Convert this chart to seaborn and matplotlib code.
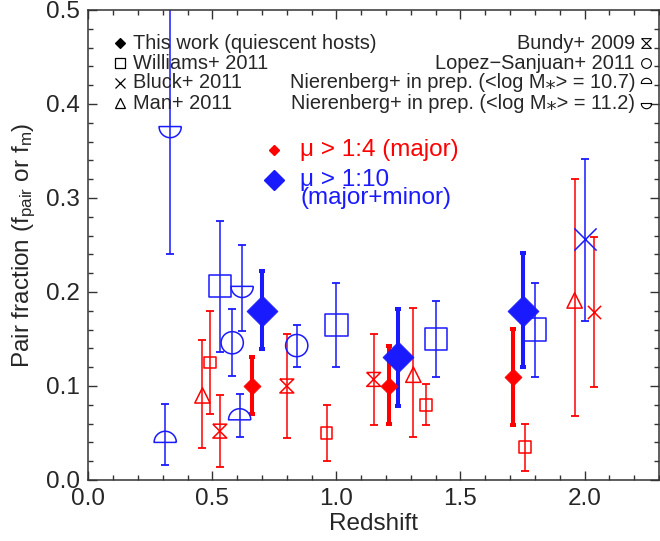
import numpy as np
import matplotlib
matplotlib.use("Agg")
import matplotlib.pyplot as plt
from matplotlib.path import Path
import seaborn as sns

# ---------------- data ----------------
# This work, mu > 1:4 (major)
tw_major_z = [0.66, 1.21, 1.71]
tw_major_f = [0.100, 0.100, 0.110]
tw_major_lo = [0.070, 0.060, 0.059]
tw_major_hi = [0.131, 0.143, 0.161]
# This work, mu > 1:10 (major+minor)
tw_minor_z = [0.70, 1.25, 1.75]
tw_minor_f = [0.180, 0.131, 0.180]
tw_minor_lo = [0.139, 0.079, 0.120]
tw_minor_hi = [0.222, 0.182, 0.242]
# Williams+ 2011
wil_minor_z = [0.53, 1.00, 1.40, 1.80]
wil_minor_f = [0.206, 0.165, 0.150, 0.160]
wil_minor_lo = [0.136, 0.120, 0.110, 0.110]
wil_minor_hi = [0.276, 0.210, 0.190, 0.210]
wil_major_z = [0.49, 0.96, 1.36, 1.76]
wil_major_f = [0.125, 0.050, 0.080, 0.035]
wil_major_lo = [0.070, 0.020, 0.059, 0.010]
wil_major_hi = [0.180, 0.080, 0.102, 0.060]
# Bundy+ 2009
bun_z = [0.53, 0.80, 1.15]
bun_f = [0.052, 0.100, 0.107]
bun_lo = [0.014, 0.045, 0.059]
bun_hi = [0.090, 0.155, 0.155]
# Lopez-Sanjuan+ 2011
lop_z = [0.58, 0.84]
lop_f = [0.146, 0.143]
lop_lo = [0.111, 0.120]
lop_hi = [0.182, 0.165]
# Man+ 2011
man_z = [0.46, 1.31, 1.96]
man_f = [0.090, 0.112, 0.191]
man_lo = [0.034, 0.046, 0.068]
man_hi = [0.149, 0.183, 0.320]
# Bluck+ 2011
blu_minor_z = [2.00]
blu_minor_f = [0.256]
blu_minor_lo = [0.169]
blu_minor_hi = [0.341]
blu_major_z = [2.04]
blu_major_f = [0.179]
blu_major_lo = [0.099]
blu_major_hi = [0.259]
# Nierenberg+ in prep.
nie107_z = [0.31, 0.61]
nie107_f = [0.040, 0.064]
nie107_lo = [0.016, 0.046]
nie107_hi = [0.081, 0.091]
nie112_z = [0.33, 0.62]
nie112_f = [0.376, 0.206]
nie112_lo = [0.240, 0.158]
nie112_hi = [0.600, 0.250]

legend_left = ["This work (quiescent hosts)", "Williams+ 2011", "Bluck+ 2011", "Man+ 2011"]
legend_right = ["Bundy+ 2009", "Lopez\u2212Sanjuan+ 2011",
                "Nierenberg+ in prep. (<log M\u204e> = 10.7)",
                "Nierenberg+ in prep. (<log M\u204e> = 11.2)"]
ratio_major_label = "\u03bc > 1:4 (major)"
ratio_minor_label = "\u03bc > 1:10\n(major+minor)"

# ---------------- style ----------------
sns.set_style("ticks")
plt.rcParams['font.family'] = ['Liberation Sans', 'DejaVu Sans']
plt.rcParams['mathtext.fontset'] = 'custom'
plt.rcParams['mathtext.rm'] = 'Liberation Sans'
plt.rcParams['mathtext.it'] = 'Liberation Sans:italic'
plt.rcParams['mathtext.default'] = 'regular'

RED = '#ff0000'
BLUE = '#1a1aff'

# custom markers
def half_circle(up=True):
    t = np.linspace(0, np.pi, 41)
    s = 1 if up else -1
    v = np.column_stack([np.cos(t), s * np.sin(t)])
    v = np.vstack([v, v[:1]])
    return Path(v)

DOME_UP = half_circle(True)
DOME_DN = half_circle(False)
BOWTIE = Path([(-1, 1), (1, 1), (-1, -1), (1, -1), (-1, 1)])

fig = plt.figure(figsize=(6.6, 5.41), dpi=100)
ax = fig.add_axes([88.3 / 660, 61 / 541, 570.7 / 660, 470 / 541])

def draw(z, f, lo, hi, color, marker, ms, filled=False, elw=1.1, cap=2.8, capthick=1.3, mlw=1.1):
    z = np.asarray(z); f = np.asarray(f)
    lo = np.asarray(lo); hi = np.asarray(hi)
    ax.errorbar(z, f, yerr=[f - lo, hi - f], fmt='none', ecolor=color,
                elinewidth=elw, capsize=cap, capthick=capthick, zorder=2)
    kw = dict(x=z, y=f, marker=marker, s=ms ** 2, ax=ax, zorder=3, legend=False)
    if marker == 'x':
        sns.scatterplot(color=color, linewidth=mlw, **kw)
    elif filled:
        sns.scatterplot(color=color, edgecolor=color, linewidth=0.5, **kw)
    else:
        sns.scatterplot(color=color, facecolor='none', edgecolor=color, linewidth=mlw, **kw)

# literature points
draw(wil_minor_z, wil_minor_f, wil_minor_lo, wil_minor_hi, BLUE, 's', 16)
draw(wil_major_z, wil_major_f, wil_major_lo, wil_major_hi, RED, 's', 8.6)
draw(bun_z, bun_f, bun_lo, bun_hi, RED, BOWTIE, 10)
draw(lop_z, lop_f, lop_lo, lop_hi, BLUE, 'o', 16)
draw(man_z, man_f, man_lo, man_hi, RED, '^', 11)
draw(blu_minor_z, blu_minor_f, blu_minor_lo, blu_minor_hi, BLUE, 'x', 16)
draw(blu_major_z, blu_major_f, blu_major_lo, blu_major_hi, RED, 'x', 9.5)
draw(nie107_z, nie107_f, nie107_lo, nie107_hi, BLUE, DOME_UP, 16)
draw(nie112_z, nie112_f, nie112_lo, nie112_hi, BLUE, DOME_DN, 16)
# this work
draw(tw_minor_z, tw_minor_f, tw_minor_lo, tw_minor_hi, BLUE, 'D', 15.8, filled=True,
     elw=2.9, cap=2.5, capthick=2.9)
draw(tw_major_z, tw_major_f, tw_major_lo, tw_major_hi, RED, 'D', 8.7, filled=True,
     elw=2.9, cap=2.5, capthick=2.9)

# axes
ax.set_xlim(0, 2.3)
ax.set_ylim(0, 0.5)
ax.set_xticks([0.0, 0.5, 1.0, 1.5, 2.0])
ax.set_xticks(np.arange(0, 2.31, 0.1), minor=True)
ax.set_yticks([0.0, 0.1, 0.2, 0.3, 0.4, 0.5])
ax.set_yticks(np.arange(0, 0.501, 0.02), minor=True)
ax.set_xticklabels(["0.0", "0.5", "1.0", "1.5", "2.0"])
ax.set_yticklabels(["0.0", "0.1", "0.2", "0.3", "0.4", "0.5"])
ax.tick_params(which='both', direction='in', top=True, right=True,
               color='0.2', width=1.0, labelsize=17.5, pad=6)
ax.tick_params(which='major', length=6.5)
ax.tick_params(which='minor', length=3.6)
for sp in ax.spines.values():
    sp.set_visible(True)
    sp.set_linewidth(1.1)
    sp.set_color('0.2')
ax.set_xlabel("Redshift", fontsize=17.5, labelpad=2)
ax.set_ylabel(r"Pair fraction (f$_{\rm pair}$ or f$_{\rm m}$)", fontsize=17.5, labelpad=6)

# legend block (text keys)
T = ax.transAxes
rows = [0.9292, 0.8872, 0.8447, 0.8014]
lmk = [('D', 5.0, True), ('s', 7.0, False), ('x', 7.0, False), ('^', 7.0, False)]
for y, lab, (m, ms, fil) in zip(rows, legend_left, lmk):
    ax.plot([0.0555], [y], marker=m, ms=ms, color='k', mfc='k' if fil else 'none',
            mew=0.9, ls='none', transform=T, clip_on=False)
    ax.text(0.078, y, lab, transform=T, fontsize=14.4, ha='left', va='center')
rmk = [(BOWTIE, 7.0), ('o', 7.0), (DOME_UP, 7.5), (DOME_DN, 7.5)]
for y, lab, (m, ms) in zip(rows, legend_right, rmk):
    ax.plot([0.977], [y], marker=m, ms=ms, color='k', mfc='none', mew=0.8,
            ls='none', transform=T, clip_on=False)
    ax.text(0.958, y, lab, transform=T, fontsize=14.4, ha='right', va='center')

# mass-ratio key
ax.plot([0.326], [0.702], marker='D', ms=5.4, color=RED, ls='none', transform=T)
ax.text(0.371, 0.702, ratio_major_label, color=RED, transform=T,
        fontsize=17.5, ha='left', va='center')
ax.plot([0.326], [0.638], marker='D', ms=10, color=BLUE, ls='none', transform=T)
ax.text(0.371, 0.619, ratio_minor_label, color=BLUE, transform=T,
        fontsize=17.5, ha='left', va='center', linespacing=0.78)

fig.savefig("out.png", dpi=100)
